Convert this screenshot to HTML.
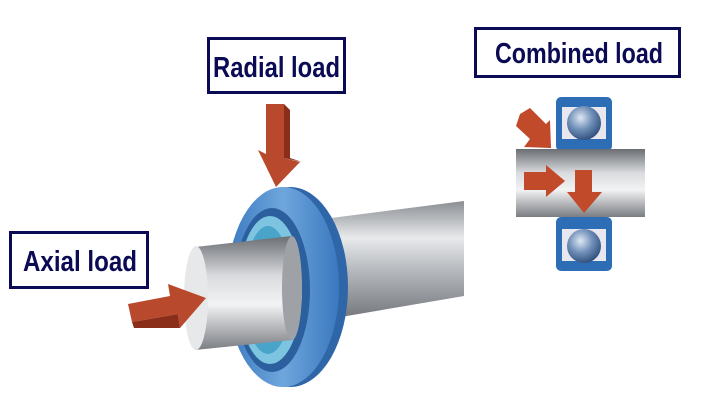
<!DOCTYPE html>
<html><head><meta charset="utf-8"><style>
html,body{margin:0;padding:0;background:#fff;width:704px;height:401px;overflow:hidden}
text{font-family:"Liberation Sans Narrow","Liberation Sans",sans-serif;font-weight:bold;fill:#0b0b55}
</style></head><body>
<svg width="704" height="401" viewBox="0 0 704 401" xmlns="http://www.w3.org/2000/svg">
<defs>
<linearGradient id="shaft" x1="0" y1="0" x2="0" y2="1">
<stop offset="0" stop-color="#8a8d92"/><stop offset="0.3" stop-color="#e8eaec"/><stop offset="0.55" stop-color="#b8bbbf"/><stop offset="1" stop-color="#6d7075"/></linearGradient>
<linearGradient id="shaft2" x1="0" y1="0" x2="0" y2="1">
<stop offset="0" stop-color="#6a6d72"/><stop offset="0.35" stop-color="#d9dbde"/><stop offset="0.6" stop-color="#f2f3f4"/><stop offset="1" stop-color="#7a7d82"/></linearGradient>
<linearGradient id="ring" x1="0" y1="0" x2="1" y2="0">
<stop offset="0" stop-color="#3b79c0"/><stop offset="0.5" stop-color="#6ea6dc"/><stop offset="1" stop-color="#3a78bf"/></linearGradient>
<radialGradient id="ball" cx="0.4" cy="0.35" r="0.7">
<stop offset="0" stop-color="#dfe8f3"/><stop offset="0.5" stop-color="#6f8fb8"/><stop offset="1" stop-color="#2c4a78"/></radialGradient>
</defs>
<!-- labels -->
<rect x="208.5" y="38.5" width="136" height="54" fill="#fff" stroke="#0b0b55" stroke-width="3"/>
<text x="213" y="77" font-size="29" textLength="127" lengthAdjust="spacingAndGlyphs">Radial load</text>
<rect x="475.5" y="28.5" width="204" height="48" fill="#fff" stroke="#0b0b55" stroke-width="3"/>
<text x="495" y="63" font-size="29" textLength="168" lengthAdjust="spacingAndGlyphs">Combined load</text>
<rect x="10.5" y="232.5" width="137" height="55" fill="#fff" stroke="#0b0b55" stroke-width="3"/>
<text x="23" y="271" font-size="29" textLength="114" lengthAdjust="spacingAndGlyphs">Axial load</text>

<!-- main shaft (right part) -->
<path d="M300 222 L464 201 L464 296 L300 324 Z" fill="url(#shaft)"/>
<!-- ring -->
<ellipse cx="290" cy="287" rx="58" ry="100" fill="#2f66a8"/>
<ellipse cx="283" cy="287" rx="56" ry="100" fill="url(#ring)"/>
<ellipse cx="272" cy="290" rx="38" ry="82" fill="#2b5f9e"/>
<ellipse cx="270" cy="290" rx="32" ry="74" fill="#7cc4e0"/>
<ellipse cx="268" cy="290" rx="24" ry="64" fill="#4aa3c9"/>
<!-- small shaft -->
<path d="M195 247 L292 236 L292 340 L195 350 Z" fill="url(#shaft2)"/>
<ellipse cx="196" cy="298" rx="12" ry="52" fill="#e6e8ea"/>
<ellipse cx="292" cy="288" rx="10" ry="52" fill="#9ea1a6"/>
<!-- radial arrow -->
<polygon points="266,104 284,104 284,158 300,162 276,187 258,150 266,154" fill="#b9492c"/>
<polygon points="284,104 290,110 290,158 302,162 284,158" fill="#8a2e1a"/>
<!-- axial arrow -->
<polygon points="128,304 170,296 168,284 206,298 180,328 178,314 132,322" fill="#b9492c"/>
<polygon points="132,322 178,314 180,328 134,328" fill="#8a2e1a"/>

<!-- combined bearing -->
<rect x="556" y="97" width="56" height="54" rx="5" fill="#2d6db5"/>
<rect x="562" y="107" width="44" height="32" fill="#e8e6ee"/>
<circle cx="584" cy="123" r="17" fill="url(#ball)"/>
<rect x="556" y="217" width="56" height="54" rx="5" fill="#2d6db5"/>
<rect x="562" y="229" width="44" height="32" fill="#e8e6ee"/>
<circle cx="584" cy="246" r="17" fill="url(#ball)"/>
<rect x="516" y="149" width="129" height="68" fill="url(#shaft2)"/>
<polygon points="520,114 530,108 546,124 550,120 551,148 524,147 530,139 516,126" fill="#c14a2a"/>
<polygon points="524,172 546,172 546,165 565,181 546,197 546,190 524,190" fill="#c14a2a"/>
<polygon points="575,170 592,170 592,192 602,192 584,213 567,192 575,192" fill="#c14a2a"/>
</svg>
</body></html>
